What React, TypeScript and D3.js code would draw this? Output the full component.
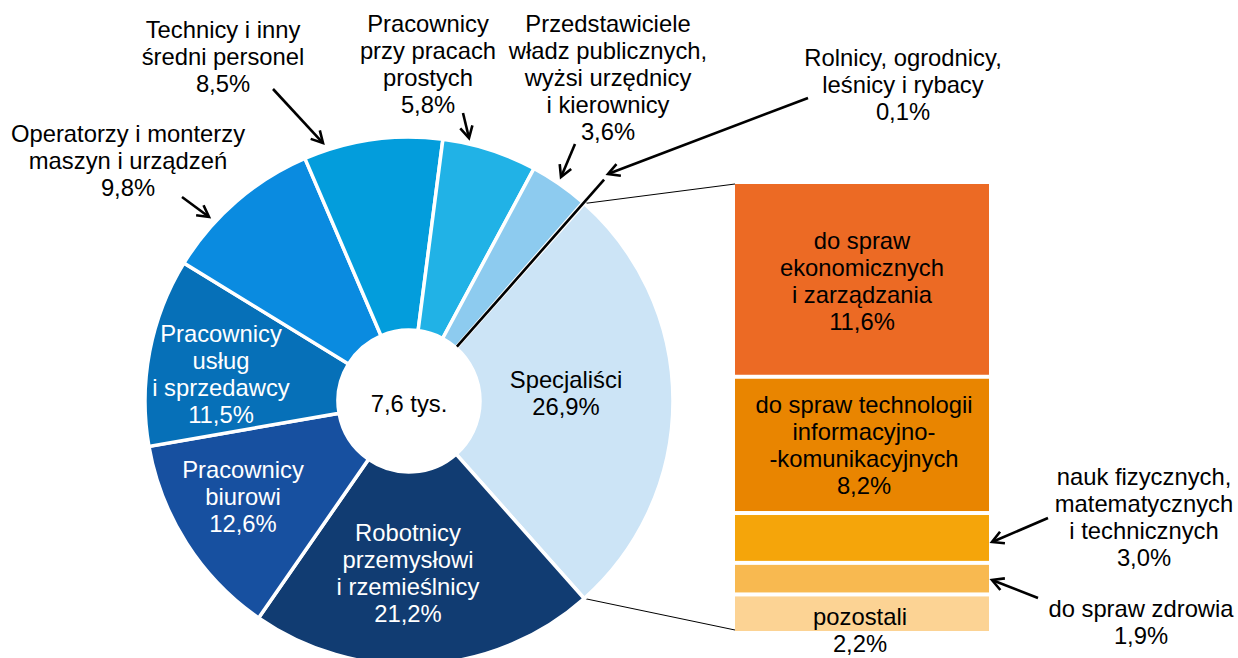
import React, { useEffect } from "react";
import * as d3 from "d3";

// ---------- DATA ----------
const categories = [
  "Specjaliści",
  "Robotnicy przemysłowi i rzemieślnicy",
  "Pracownicy biurowi",
  "Pracownicy usług i sprzedawcy",
  "Operatorzy i monterzy maszyn i urządzeń",
  "Technicy i inny średni personel",
  "Pracownicy przy pracach prostych",
  "Przedstawiciele władz publicznych, wyżsi urzędnicy i kierownicy",
  "Rolnicy, ogrodnicy, leśnicy i rybacy",
];
const shares = [26.9, 21.2, 12.6, 11.5, 9.8, 8.5, 5.8, 3.6, 0.1];
const categoryLines = [
  ["Specjaliści"],
  ["Robotnicy", "przemysłowi", "i rzemieślnicy"],
  ["Pracownicy", "biurowi"],
  ["Pracownicy", "usług", "i sprzedawcy"],
  ["Operatorzy i monterzy", "maszyn i urządzeń"],
  ["Technicy i inny", "średni personel"],
  ["Pracownicy", "przy pracach", "prostych"],
  ["Przedstawiciele", "władz publicznych,", "wyżsi urzędnicy", "i kierownicy"],
  ["Rolnicy, ogrodnicy,", "leśnicy i rybacy"],
];
const totalLabel = "7,6 tys.";

const subCategories = [
  "do spraw ekonomicznych i zarządzania",
  "do spraw technologii informacyjno-komunikacyjnych",
  "nauk fizycznych, matematycznych i technicznych",
  "do spraw zdrowia",
  "pozostali",
];
const subShares = [11.6, 8.2, 3.0, 1.9, 2.2];
const subLines = [
  ["do spraw", "ekonomicznych", "i zarządzania"],
  ["do spraw technologii", "informacyjno-", "-komunikacyjnych"],
  ["nauk fizycznych,", "matematycznych", "i technicznych"],
  ["do spraw zdrowia"],
  ["pozostali"],
];

// ---------- STYLE / LAYOUT ----------
const W = 1238;
const H = 658;
const FONT = "'Liberation Sans', Arial, sans-serif";
const FS = 23.8;
const LH = 27;
const pieColors = ["#cce4f6", "#113c72", "#1750a0", "#0670b8", "#0a8be0", "#039ddc", "#21b2e6", "#8dcbef", "#000000"];
const subColors = ["#ec6a24", "#e98500", "#f5a50a", "#f8b950", "#fcd394"];
const cx = 409;
const cy = 401;
const R = 264;
const R0 = 71;
const barX0 = 735;
const barX1 = 989;
const barY0 = 184;
const barY1 = 631;

// label layout: [centerX, firstBaseline, color]
const pieLabelPos: [number, number, string][] = [
  [566, 388, "#000"],
  [408, 541, "#fff"],
  [243, 478, "#fff"],
  [221, 342, "#fff"],
  [128, 142, "#000"],
  [223, 38, "#000"],
  [428, 32, "#000"],
  [608, 32, "#000"],
  [903, 66, "#000"],
];
// arrows: [x1, y1, tipX, tipY]
const pieArrows: ([number, number, number, number] | null)[] = [
  null, null, null, null,
  [182, 197, 209, 217],
  [273, 89, 323, 143],
  [463, 113, 469, 138],
  [575, 144, 561, 177],
  [808, 98, 608, 174],
];
const subLabelPos: [number, number][] = [
  [862, 249],
  [864, 413],
  [1144, 485],
  [1141, 617],
  [860, 625],
];
const subArrows: ([number, number, number, number] | null)[] = [
  null, null,
  [1048, 518, 992, 542],
  [1038, 598, 992, 580],
  null,
];

const fmt = (v: number) => d3.format(".1f")(v).replace(".", ",") + "%";

function Arrow({ a }: { a: [number, number, number, number] }) {
  const [x1, y1, x2, y2] = a;
  const ang = Math.atan2(y2 - y1, x2 - x1);
  const L = 13;
  const spread = 0.5;
  const p1 = [x2 - L * Math.cos(ang - spread), y2 - L * Math.sin(ang - spread)];
  const p2 = [x2 - L * Math.cos(ang + spread), y2 - L * Math.sin(ang + spread)];
  return (
    <g stroke="#000" strokeWidth={2.6} fill="none" strokeLinecap="butt">
      <line x1={x1} y1={y1} x2={x2 - 2 * Math.cos(ang)} y2={y2 - 2 * Math.sin(ang)} />
      <polyline points={`${p1[0]},${p1[1]} ${x2},${y2} ${p2[0]},${p2[1]}`} strokeLinejoin="miter" />
    </g>
  );
}

function TextBlock({ x, y, lines, color }: { x: number; y: number; lines: string[]; color: string }) {
  return (
    <text x={x} y={y} fill={color} fontFamily={FONT} fontSize={FS} textAnchor="middle">
      {lines.map((l, i) => (
        <tspan key={i} x={x} dy={i === 0 ? 0 : LH}>
          {l}
        </tspan>
      ))}
    </text>
  );
}

export default function App() {
  useEffect(() => {
    document.body.style.margin = "0";
  }, []);

  const startAngle = Math.PI / 2 - (shares[0] / 100) * Math.PI;
  const pie = d3
    .pie<number>()
    .sort(null)
    .value((d) => d)
    .startAngle(startAngle)
    .endAngle(startAngle + 2 * Math.PI);
  const arcs = pie(shares);
  const arcGen = d3.arc<d3.PieArcDatum<number>>().innerRadius(R0).outerRadius(R);

  const spec = arcs[0];
  const specTop = [cx + R * Math.sin(spec.startAngle), cy - R * Math.cos(spec.startAngle)];
  const specBot = [cx + R * Math.sin(spec.endAngle), cy - R * Math.cos(spec.endAngle)];

  const yBar = d3.scaleLinear().domain([0, d3.sum(subShares)]).range([barY0, barY1]);
  let acc = 0;
  const segs = subShares.map((v) => {
    const s = { y0: yBar(acc), y1: yBar(acc + v), v };
    acc += v;
    return s;
  });

  const tiny = arcs[8];
  const tinyAng = (tiny.startAngle + tiny.endAngle) / 2;

  return (
    <svg width={W} height={H} style={{ display: "block", position: "absolute", left: 0, top: 0 }}>
      <rect width={W} height={H} fill="#fff" />
      {/* connector lines */}
      <line x1={specTop[0]} y1={specTop[1]} x2={barX0} y2={barY0} stroke="#000" strokeWidth={1} />
      <line x1={specBot[0]} y1={specBot[1]} x2={barX0} y2={barY1 - 1} stroke="#000" strokeWidth={1} />
      {/* pie */}
      <g transform={`translate(${cx},${cy})`}>
        {arcs.slice(0, 8).map((a, i) => (
          <path key={i} d={arcGen(a) || ""} fill={pieColors[i]} stroke="#fff" strokeWidth={3.5} />
        ))}
        <line
          x1={R0 * 1.02 * Math.sin(tinyAng)}
          y1={-R0 * 1.02 * Math.cos(tinyAng)}
          x2={295 * Math.sin(tinyAng)}
          y2={-295 * Math.cos(tinyAng)}
          stroke={pieColors[8]}
          strokeWidth={2.6}
        />
      </g>
      {/* bar */}
      {segs.map((s, i) => (
        <rect
          key={i}
          x={barX0}
          y={s.y0 + (i === 0 ? 0 : 2)}
          width={barX1 - barX0}
          height={s.y1 - s.y0 - (i === 0 ? 2 : 4) + (i === segs.length - 1 ? 2 : 0)}
          fill={subColors[i]}
        />
      ))}
      {/* pie labels */}
      {categoryLines.map((lines, i) => (
        <TextBlock
          key={i}
          x={pieLabelPos[i][0]}
          y={pieLabelPos[i][1]}
          lines={[...lines, fmt(shares[i])]}
          color={pieLabelPos[i][2]}
        />
      ))}
      <text x={cx} y={412} fontFamily={FONT} fontSize={FS} textAnchor="middle" fill="#000">
        {totalLabel}
      </text>
      {pieArrows.map((a, i) => (a ? <Arrow key={i} a={a} /> : null))}
      {/* bar labels */}
      {subLines.map((lines, i) => (
        <TextBlock key={i} x={subLabelPos[i][0]} y={subLabelPos[i][1]} lines={[...lines, fmt(subShares[i])]} color="#000" />
      ))}
      {subArrows.map((a, i) => (a ? <Arrow key={i} a={a} /> : null))}
    </svg>
  );
}
